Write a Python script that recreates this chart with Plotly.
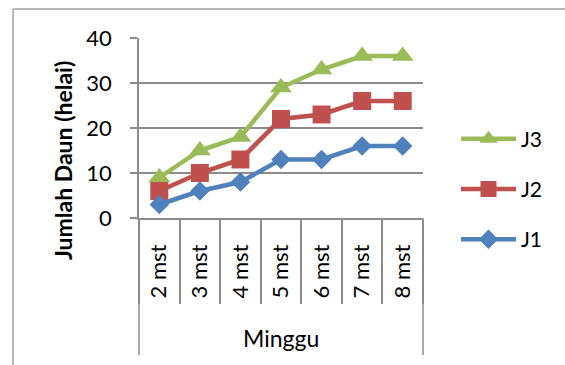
import plotly.graph_objects as go

weeks = ["2 mst", "3 mst", "4 mst", "5 mst", "6 mst", "7 mst", "8 mst"]
x_title = "Minggu"
y_title = "Jumlah Daun (helai)"
j1 = [3, 6, 8, 13, 13, 16, 16]
j2 = [6, 10, 13, 22, 23, 26, 26]
j3 = [9, 15, 18, 29, 33, 36, 36]
y_ticks = [0, 10, 20, 30, 40]

FONT = "Lato"
GRID = "#8c8c8c"

# drawn J3 first so that J1 sits on top; legend follows the same order
series = [
    ("J3", j3, "#9BBB59", "triangle-up", 19),
    ("J2", j2, "#C0504D", "square", 18),
    ("J1", j1, "#4F81BD", "diamond", 15),
]

fig = go.Figure()
for name, vals, color, symbol, msize in series:
    fig.add_trace(go.Scatter(
        x=weeks, y=vals, name=name, mode="lines+markers",
        line=dict(color=color, width=4.5),
        marker=dict(symbol=symbol, size=msize, color=color),
        legendgroup=name,
    ))

W, H = 565, 365
ml, mr, mt, mb = 139, 142, 38, 147
pw, ph = W - ml - mr, H - mt - mb


def px_x(p):
    return (p - ml) / pw


def px_y(p):
    return (H - mb - p) / ph


fig.update_layout(
    width=W, height=H,
    margin=dict(l=ml, r=mr, t=mt, b=mb),
    paper_bgcolor="white", plot_bgcolor="white",
    font=dict(family=FONT, size=22, color="black"),
    showlegend=True,
    legend=dict(
        traceorder="grouped", tracegroupgap=20,
        itemwidth=55, x=px_x(456), xanchor="left", y=px_y(189), yanchor="middle",
        font=dict(size=21), bgcolor="rgba(0,0,0,0)",
    ),
    xaxis=dict(
        type="category", range=[-0.5, len(weeks) - 0.5],
        showline=True, linecolor=GRID, linewidth=1.5, showgrid=False,
        ticks="outside", tickson="boundaries", ticklen=84, tickcolor=GRID, tickwidth=1.5,
        tickangle=-90, tickfont=dict(size=22), ticklabelstandoff=16,
    ),
    yaxis=dict(
        range=[0, 40], tickvals=y_ticks, showgrid=True, gridcolor=GRID, gridwidth=1.5,
        showline=True, linecolor=GRID, linewidth=1.5,
        ticks="outside", ticklen=7, tickcolor=GRID, tickwidth=1.5,
        tickfont=dict(size=22), ticklabelstandoff=14, zeroline=False,
    ),
    annotations=[
        dict(text="<b>" + y_title + "</b>", textangle=-90,
             xref="paper", yref="paper", x=px_x(63), y=px_y(161),
             showarrow=False, font=dict(size=23, family=FONT),
             xanchor="center", yanchor="middle"),
        dict(text=x_title, xref="paper", yref="paper", x=0.5, y=px_y(338),
             showarrow=False, font=dict(size=23, family=FONT),
             xanchor="center", yanchor="middle"),
    ],
    shapes=[
        # outer edges of the category table below the axis
        dict(type="line", xref="paper", yref="paper", x0=0, x1=0, y0=0, y1=px_y(355),
             line=dict(color=GRID, width=1.5)),
        dict(type="line", xref="paper", yref="paper", x0=1, x1=1, y0=0, y1=px_y(355),
             line=dict(color=GRID, width=1.5)),
        # chart frame
        dict(type="line", xref="paper", yref="paper",
             x0=px_x(13), x1=px_x(13), y0=px_y(9), y1=px_y(370),
             line=dict(color="#a0a0a0", width=1.5)),
        dict(type="line", xref="paper", yref="paper",
             x0=px_x(13), x1=px_x(570), y0=px_y(9), y1=px_y(9),
             line=dict(color="#a0a0a0", width=1.5)),
    ],
)

fig.write_html("out.html")
